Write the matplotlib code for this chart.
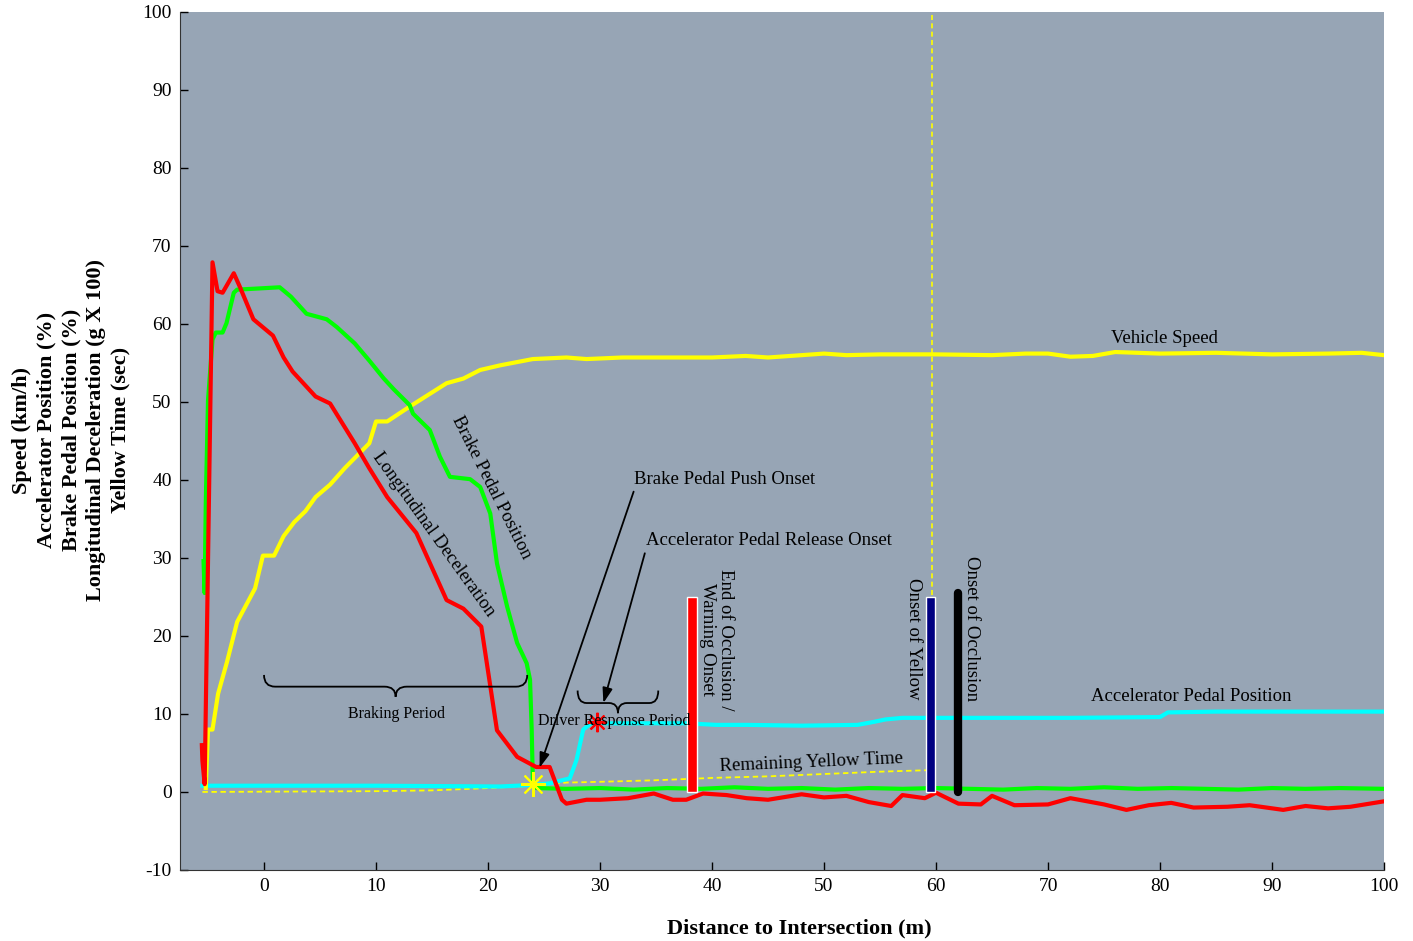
import matplotlib
matplotlib.use("Agg")
import matplotlib.pyplot as plt
from matplotlib.path import Path
from matplotlib.patches import PathPatch

plt.rcParams['font.family'] = ['Liberation Serif', 'DejaVu Serif']
plt.rcParams['axes.unicode_minus'] = False

# vehicle speed (km/h) vs distance to intersection (m)
speed_x = [-5.2, -5.0, -4.6, -4.1, -3.3, -2.4, -0.8, -0.1, 0.9, 1.75, 2.7, 3.7, 4.6, 5.9, 7.2,
           9.4, 10.0, 11.0, 13.0, 16.3, 17.8, 19.3, 21.1, 24.0, 27.0, 28.8, 32, 36, 40, 43, 45,
           48, 50, 52, 55, 60, 65, 68, 70, 72, 74, 76, 80, 85, 90, 95, 98, 100]
speed_y = [0.5, 8.0, 8.0, 12.6, 16.7, 21.8, 26.1, 30.3, 30.3, 32.8, 34.6, 36.0, 37.8, 39.4, 41.5,
           44.7, 47.5, 47.5, 49.4, 52.4, 53.0, 54.1, 54.7, 55.5, 55.7, 55.5, 55.7, 55.7, 55.7, 55.9, 55.7,
           56.0, 56.2, 56.0, 56.1, 56.1, 56.0, 56.2, 56.2, 55.8, 55.9, 56.4, 56.2, 56.3, 56.1, 56.2, 56.3, 56.0]

# brake pedal position (%)
brake_x = [-5.4, -5.3, -5.2, -5.0, -4.6, -4.3, -3.7, -3.35, -2.7, -2.4, -1.1, 1.4, 2.4, 3.8, 5.6,
           6.5, 8.1, 9.4, 10.7, 11.6, 13.0, 13.3, 14.8, 15.7, 16.6, 18.4, 19.3, 20.2, 20.8, 21.7,
           22.6, 23.45, 23.75, 23.9, 24.0, 24.3, 27, 30, 33, 36, 39, 42, 45, 48, 51, 54, 57, 60,
           63, 66, 69, 72, 75, 78, 81, 84, 87, 90, 93, 96, 100]
brake_y = [29.6, 25.5, 37.0, 50.2, 58.0, 58.9, 58.9, 60.1, 64.0, 64.4, 64.5, 64.7, 63.5, 61.3, 60.6,
           59.6, 57.5, 55.3, 53.0, 51.6, 49.6, 48.5, 46.4, 43.0, 40.4, 40.1, 39.1, 35.7, 29.3, 23.8,
           19.1, 16.5, 14.4, 7.9, 1.5, 0.5, 0.4, 0.5, 0.3, 0.5, 0.4, 0.6, 0.4, 0.5, 0.3, 0.5, 0.4, 0.5,
           0.4, 0.3, 0.5, 0.4, 0.6, 0.4, 0.5, 0.4, 0.3, 0.5, 0.4, 0.5, 0.4]

# longitudinal deceleration (g x 100)
decel_x = [-5.55, -5.5, -5.3, -4.6, -4.15, -3.7, -2.7, -2.2, -0.95, 0.8, 1.75, 2.55, 4.6, 5.9, 8.1,
           9.4, 11.0, 13.6, 16.3, 17.8, 19.4, 20.8, 22.6, 24.3, 25.5, 26.6, 27.0, 28.8, 30.0, 32.5,
           34.8, 36.5, 37.7, 39.2, 41.3, 43.1, 45, 48, 50, 52, 54, 56, 57, 59, 60, 62, 64, 65, 67,
           70, 72, 75, 77, 79, 81, 83, 86, 88, 91, 93, 95, 97, 100]
decel_y = [6.0, 4.0, 1.0, 67.9, 64.2, 64.0, 66.5, 64.9, 60.6, 58.5, 55.7, 53.9, 50.7, 49.8, 44.7,
           41.5, 37.8, 33.2, 24.6, 23.5, 21.2, 7.9, 4.5, 3.2, 3.2, -1.0, -1.5, -1.0, -1.0, -0.8,
           -0.2, -1.0, -1.0, -0.2, -0.4, -0.8, -1.0, -0.3, -0.7, -0.5, -1.3, -1.8, -0.4, -0.8, -0.1,
           -1.5, -1.6, -0.5, -1.7, -1.6, -0.8, -1.6, -2.3, -1.7, -1.4, -2.0, -1.9, -1.7, -2.3, -1.8,
           -2.1, -1.9, -1.2]

# accelerator pedal position (%)
accel_x = [-5.5, 10, 21.1, 24.0, 25.5, 27.3, 27.9, 28.5, 29.2, 33, 37.7, 40.4, 43.1, 48, 53,
           54.5, 55.5, 57, 65, 72, 80, 80.7, 85, 90, 95, 100]
accel_y = [0.8, 0.8, 0.7, 0.9, 1.1, 1.75, 4.1, 8.0, 8.8, 8.8, 8.8, 8.6, 8.6, 8.5, 8.6,
           9.0, 9.3, 9.5, 9.5, 9.5, 9.6, 10.2, 10.3, 10.3, 10.3, 10.3]

# remaining yellow time (sec)
yellow_x = [-5.5, 10, 15, 20, 24, 27, 30, 35, 40, 45, 50, 55, 59.5]
yellow_y = [0.0, 0.1, 0.2, 0.5, 0.8, 1.2, 1.3, 1.5, 1.8, 2.0, 2.3, 2.6, 2.8]

# event markers
event_x = [38.2, 59.5, 62.0]
event_h = [25.0, 25.0, 25.5]
event_c = ['#ff0000', '#000080', '#000000']
yellow_onset_x = 59.6
brake_onset = (24.0, 1.0)
accel_release = (29.7, 9.0)

fig = plt.figure(figsize=(14.13, 9.41), dpi=100)
ax = fig.add_axes([0.1274, 0.0755, 0.8521, 0.9118])
ax.set_facecolor('#97a5b5')

ax.plot(yellow_x, yellow_y, color='#ffff00', lw=1.3, ls=(0, (3, 2)), zorder=2)
ax.plot([yellow_onset_x, yellow_onset_x], [25.2, 100], color='#ffff00', lw=1.2,
        ls=(0, (3, 2)), zorder=2)
ax.plot(accel_x, accel_y, color='#00ffff', lw=3, zorder=3)
ax.plot(brake_x, brake_y, color='#00ff00', lw=3, zorder=4)
ax.plot(decel_x, decel_y, color='#ff0000', lw=3, zorder=4)
ax.plot(speed_x, speed_y, color='#ffff00', lw=3, zorder=3)

ax.bar(event_x[:2], event_h[:2], width=0.85, color=event_c[:2], edgecolor='white',
       linewidth=1, zorder=5)
ax.plot([event_x[2], event_x[2]], [0, event_h[2]], color=event_c[2], lw=6,
        solid_capstyle='round', zorder=5)

ax.plot(*brake_onset, marker=(8, 2, 0), ms=18, mec='#ffff00', mew=1.5, zorder=6)
ax.plot(*accel_release, marker=(8, 2, 0), ms=14, mec='#ff0000', mew=1.5, zorder=6)


def brace(x0, x1, y, up, down, r=1.0):
    xm = (x0 + x1) / 2
    verts = [(x0, y + up), (x0, y), (x0 + r, y),
             (xm - r, y),
             (xm, y), (xm, y - down),
             (xm, y), (xm + r, y),
             (x1 - r, y),
             (x1, y), (x1, y + up)]
    codes = [Path.MOVETO, Path.CURVE3, Path.CURVE3,
             Path.LINETO,
             Path.CURVE3, Path.CURVE3,
             Path.CURVE3, Path.CURVE3,
             Path.LINETO,
             Path.CURVE3, Path.CURVE3]
    ax.add_patch(PathPatch(Path(verts, codes), fc='none', ec='black', lw=1.3, zorder=6))


brace(0.0, 23.5, 13.5, 1.5, 1.3)
brace(28.0, 35.2, 11.4, 1.6, 1.3, r=0.8)

fs = 13.5
ax.text(80.4, 58.1, 'Vehicle Speed', fontsize=fs, ha='center', va='center')
ax.text(82.8, 12.2, 'Accelerator Pedal Position', fontsize=fs, ha='center', va='center')
ax.text(48.9, 3.8, 'Remaining Yellow Time', fontsize=fs, ha='center', va='center', rotation=2.5)
ax.text(31.3, 9.1, 'Driver Response Period', fontsize=11.5, ha='center', va='center', zorder=7)
ax.text(11.8, 10.0, 'Braking Period', fontsize=11.5, ha='center', va='center')
ax.text(15.1, 33.0, 'Longitudinal Deceleration', fontsize=fs, ha='center', va='center',
        rotation=-54.3)
ax.text(20.3, 39.1, 'Brake Pedal Position', fontsize=fs, ha='center', va='center',
        rotation=-63.3)
ax.text(33.0, 40.0, 'Brake Pedal Push Onset', fontsize=fs, ha='left', va='center')
ax.text(34.1, 32.2, 'Accelerator Pedal Release Onset', fontsize=fs, ha='left', va='center')
ax.text(40.4, 28.6, 'End of Occlusion /\nWarning Onset', fontsize=fs, ha='center', va='top',
        rotation=-90, linespacing=1.1)
ax.text(58.0, 27.4, 'Onset of Yellow', fontsize=fs, ha='center', va='top', rotation=-90)
ax.text(63.2, 30.3, 'Onset of Occlusion', fontsize=fs, ha='center', va='top', rotation=-90)

arrow = dict(arrowstyle='-|>,head_length=0.9,head_width=0.3', color='black', lw=1.3,
             shrinkA=0, shrinkB=0)
ax.annotate('', xy=(24.6, 3.1), xytext=(33.0, 38.5), arrowprops=arrow, zorder=7)
ax.annotate('', xy=(30.3, 11.4), xytext=(34.0, 30.6), arrowprops=arrow, zorder=7)

ax.set_xlim(-7.5, 100)
ax.set_ylim(-10, 100)
ax.set_xticks(range(0, 101, 10))
ax.set_yticks(range(-10, 101, 10))
ax.tick_params(direction='in', length=6, width=1, labelsize=14, pad=6)
for side in ['top', 'right']:
    ax.spines[side].set_visible(False)
for side in ['left', 'bottom']:
    ax.spines[side].set_color('#333333')

fig.text(0.5655, 1 - 928 / 941, 'Distance to Intersection (m)', fontsize=16,
         fontweight='bold', ha='center', va='center')
fig.text(0.0505, 1 - 430 / 941, 'Speed (km/h)\nAccelerator Position (%)\nBrake Pedal Position (%)\n'
         'Longitudinal Deceleration (g X 100)\nYellow Time (sec)',
         fontsize=16, fontweight='bold', rotation=90, ha='center', va='center',
         multialignment='center', linespacing=1.3)

fig.savefig('out.png', dpi=100)
